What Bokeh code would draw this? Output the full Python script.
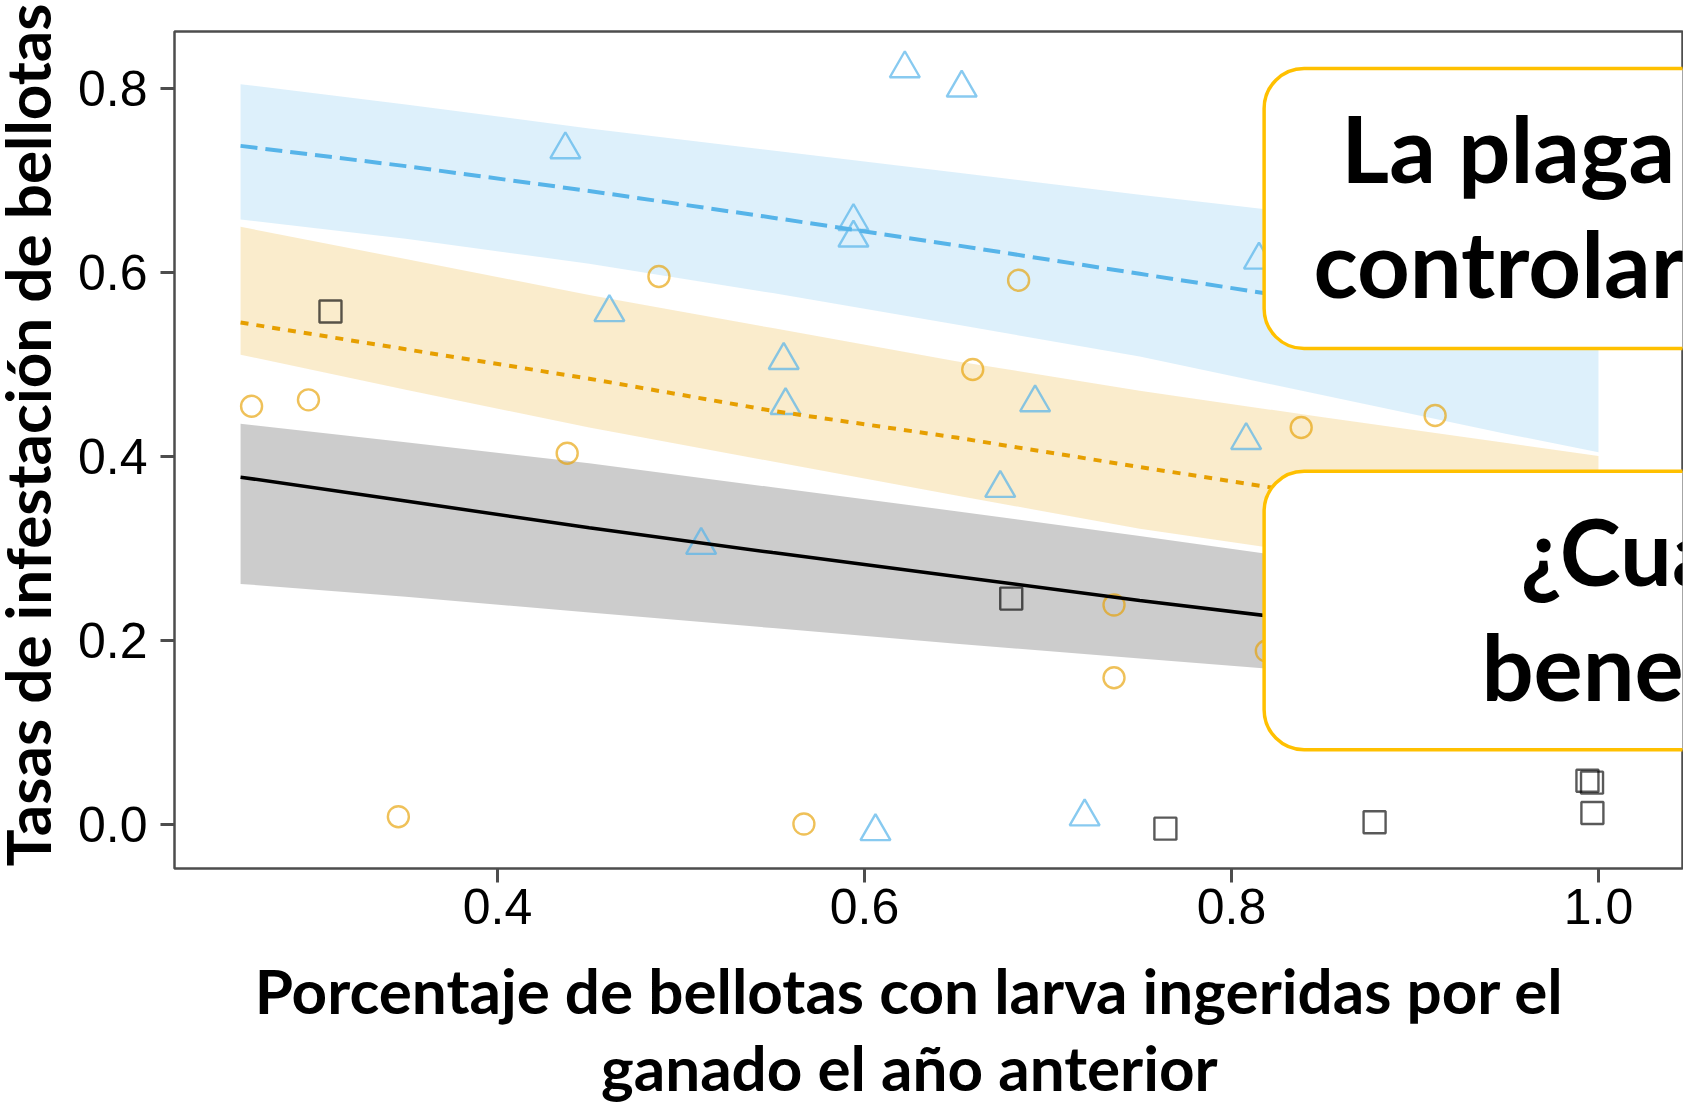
from math import pi
from bokeh.plotting import figure
from bokeh.layouts import row, column
from bokeh.models import Range1d, FixedTicker, BoxAnnotation, Label
from bokeh.core.properties import value
from bokeh.embed import file_html
from bokeh.resources import INLINE

# ---------------- data ----------------
# squares (dark group)
sq_x = [0.309, 0.680, 0.764, 0.878, 0.994, 0.9965, 0.9967]
sq_y = [0.558, 0.246, -0.004, 0.003, 0.048, 0.046, 0.013]
# circles (orange group)
ci_x = [0.266, 0.297, 0.346, 0.438, 0.488, 0.567, 0.659, 0.684, 0.736, 0.736, 0.819, 0.838, 0.911]
ci_y = [0.455, 0.462, 0.009, 0.404, 0.596, 0.001, 0.495, 0.592, 0.239, 0.160, 0.189, 0.432, 0.445]
# triangles (blue group)
tr_x = [0.437, 0.461, 0.511, 0.556, 0.557, 0.594, 0.594, 0.606, 0.622, 0.653, 0.674, 0.693, 0.720, 0.808, 0.815]
tr_y = [0.734, 0.557, 0.304, 0.505, 0.456, 0.656, 0.638, -0.007, 0.822, 0.801, 0.366, 0.459, 0.009, 0.418, 0.614]

# fitted curves and confidence ribbons
fit_x = [0.26, 0.35, 0.45, 0.55, 0.65, 0.75, 0.85, 0.95, 1.0]
gray_fit = [0.378, 0.352, 0.323, 0.296, 0.270, 0.244, 0.220, 0.197, 0.186]
gray_lo = [0.262, 0.248, 0.231, 0.214, 0.197, 0.181, 0.165, 0.150, 0.143]
gray_hi = [0.436, 0.416, 0.393, 0.367, 0.341, 0.314, 0.286, 0.258, 0.243]
orange_fit = [0.546, 0.517, 0.485, 0.450, 0.421, 0.389, 0.358, 0.330, 0.316]
orange_lo = [0.511, 0.473, 0.432, 0.395, 0.358, 0.322, 0.293, 0.266, 0.253]
orange_hi = [0.650, 0.615, 0.576, 0.540, 0.504, 0.472, 0.443, 0.415, 0.401]
blue_fit = [0.738, 0.716, 0.689, 0.660, 0.630, 0.599, 0.568, 0.536, 0.520]
blue_lo = [0.658, 0.637, 0.610, 0.578, 0.544, 0.509, 0.467, 0.425, 0.405]
blue_hi = [0.805, 0.783, 0.757, 0.733, 0.709, 0.685, 0.662, 0.640, 0.628]

x_ticks = [0.4, 0.6, 0.8, 1.0]
x_tick_labels = ["0.4", "0.6", "0.8", "1.0"]
y_ticks = [0.0, 0.2, 0.4, 0.6, 0.8]
y_tick_labels = ["0.0", "0.2", "0.4", "0.6", "0.8"]

x_title = ["Porcentaje de bellotas con larva ingeridas por el", "ganado el año anterior"]
y_title = ["Tasas de infestación de bellotas"]
box1_lines = ["La plaga", "controlar"]
box2_lines = ["¿Cua", "bene"]

TITLE_FONT = dict(text_font=value("Lato"), text_font_style="bold",
                  text_font_size=value("62px"), text_color="black",
                  text_align="center", text_baseline="middle")

# ---------------- y title strip (left) ----------------
YW, H = 70, 1105
ylab = figure(width=YW, height=H, output_backend="svg", toolbar_location=None,
              x_range=Range1d(0, YW), y_range=Range1d(H, 0), min_border=0,
              x_axis_location=None, y_axis_location=None)
ylab.grid.visible = False
ylab.outline_line_color = None
ylab.background_fill_color = "white"
ylab.border_fill_color = "white"
ylab.text(x=[26], y=[434.5], text=y_title, angle=pi / 2, **TITLE_FONT)

# ---------------- main plot ----------------
MW, MH = 1683 - YW, 960
p = figure(width=MW, height=MH, output_backend="svg", toolbar_location=None,
           x_range=Range1d(0.224, 1.0458), y_range=Range1d(-0.0473, 0.8623),
           min_border_left=174 - YW, min_border_top=31, min_border_bottom=MH - 868,
           min_border_right=1)
p.background_fill_color = "white"
p.border_fill_color = "white"
p.xgrid.visible = False
p.ygrid.visible = False
p.outline_line_color = "#4D4D4D"
p.outline_line_width = 2.5

for ax in (p.xaxis[0], p.yaxis[0]):
    ax.axis_line_color = None
    ax.major_tick_line_color = "#4D4D4D"
    ax.major_tick_line_width = 3
    ax.major_tick_out = 14
    ax.major_tick_in = 0
    ax.minor_tick_line_color = None
    ax.major_label_text_font = "Liberation Sans"
    ax.major_label_text_font_size = "50px"
    ax.major_label_text_color = "black"

p.xaxis.ticker = FixedTicker(ticks=x_ticks)
p.xaxis.major_label_overrides = dict(zip(x_ticks, x_tick_labels))
p.xaxis.major_label_standoff = 6
p.yaxis.ticker = FixedTicker(ticks=y_ticks)
p.yaxis.major_label_overrides = dict(zip(y_ticks, y_tick_labels))
p.yaxis.major_label_standoff = 13

# ribbons
p.varea(x=fit_x, y1=gray_lo, y2=gray_hi, fill_color="black", fill_alpha=0.2)
p.varea(x=fit_x, y1=orange_lo, y2=orange_hi, fill_color="#E69F00", fill_alpha=0.2)
p.varea(x=fit_x, y1=blue_lo, y2=blue_hi, fill_color="#56B4E9", fill_alpha=0.2)

# points
p.scatter(sq_x, sq_y, marker="square", size=22, fill_color=None,
          line_color="black", line_alpha=0.65, line_width=2.4)
p.scatter(ci_x, ci_y, marker="circle", size=21, fill_color=None,
          line_color="#E69F00", line_alpha=0.65, line_width=2.4)
p.scatter(tr_x, tr_y, marker="triangle", size=30, fill_color=None,
          line_color="#56B4E9", line_alpha=0.7, line_width=2.4)

# fitted lines
p.line(fit_x, gray_fit, line_color="black", line_width=3.5)
p.line(fit_x, orange_fit, line_color="#E69F00", line_width=4, line_dash="8 8")
p.line(fit_x, blue_fit, line_color="#56B4E9", line_width=4, line_dash="17 8")

# annotation boxes
for top, bottom in ((0.8221, 0.5177), (0.3843, 0.0818)):
    p.add_layout(BoxAnnotation(left=0.8178, right=1.25, top=top, bottom=bottom,
                               fill_color="white", fill_alpha=1.0,
                               line_color="#FFC000", line_alpha=1.0, line_width=3.5,
                               border_radius=40))

box_font = dict(text_font="Lato", text_font_style="bold", text_font_size="92px",
                text_color="black", text_align="left", text_baseline="middle")
for (tx, ty), txt in zip([(0.8599, 0.7358), (0.8447, 0.6118)], box1_lines):
    p.add_layout(Label(x=tx, y=ty, text=txt, **box_font))
for (tx, ty), txt in zip([(0.9575, 0.2988), (0.9362, 0.1738)], box2_lines):
    p.add_layout(Label(x=tx, y=ty, text=txt, **box_font))

# ---------------- x title strip (bottom) ----------------
XH = H - MH
xlab = figure(width=MW, height=XH, output_backend="svg", toolbar_location=None,
              x_range=Range1d(0, MW), y_range=Range1d(XH, 0), min_border=0,
              x_axis_location=None, y_axis_location=None)
xlab.grid.visible = False
xlab.outline_line_color = None
xlab.background_fill_color = "white"
xlab.border_fill_color = "white"
XC = 786
xlab.text(x=[XC, XC], y=[1013 - 24 - MH, 1090 - 24 - MH], text=x_title, **TITLE_FONT)

layout = row(ylab, column(p, xlab, spacing=0), spacing=0)
open("out.html", "w").write(file_html(layout, INLINE))
